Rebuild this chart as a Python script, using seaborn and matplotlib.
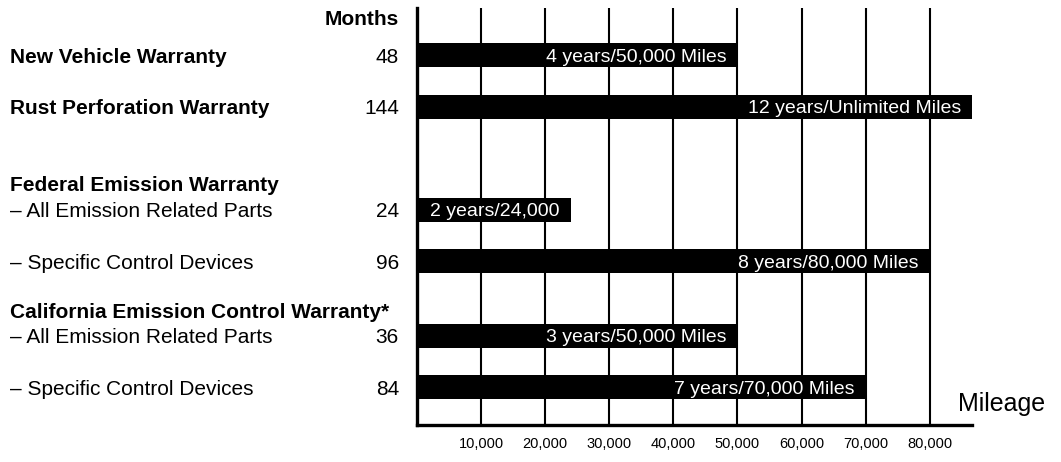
import numpy as np
import pandas as pd
import matplotlib
matplotlib.use("Agg")
import matplotlib.pyplot as plt
import matplotlib.transforms as mtransforms
import seaborn as sns

# datos
rows = ["New Vehicle Warranty", "Rust Perforation Warranty",
        "– All Emission Related Parts", "– Specific Control Devices",
        "– All Emission Related Parts", "– Specific Control Devices"]
row_bold = [True, True, False, False, False, False]
months = [48, 144, 24, 96, 36, 84]
miles = [50000, np.inf, 24000, 80000, 50000, 70000]   # inf = unlimited
bar_labels = ["4 years/50,000 Miles", "12 years/Unlimited Miles", "2 years/24,000",
              "8 years/80,000 Miles", "3 years/50,000 Miles", "7 years/70,000 Miles"]
groups = ["Federal Emission Warranty", "California Emission Control Warranty*"]
tick_values = [10000, 20000, 30000, 40000, 50000, 60000, 70000, 80000]

# layout (posiciones de filas en el eje y)
row_pos = [0, 1, 3, 4, 5.45, 6.45]
group_pos = [2.49, 4.95]
x_max = 86600

sns.set_style("white")
plt.rcParams['font.family'] = ['Liberation Sans', 'DejaVu Sans']
plt.rcParams['text.color'] = 'black'
plt.rcParams['xtick.color'] = 'black'

df = pd.DataFrame({"pos": row_pos, "miles": np.minimum(miles, x_max)})

fig = plt.figure(figsize=(10.61, 4.62), dpi=100)
ax = fig.add_axes([417 / 1061, 1 - 425 / 462, 555 / 1061, 417 / 462])

sns.barplot(data=df, x="miles", y="pos", orient="y", native_scale=True,
            color="black", saturation=1, width=0.466, linewidth=0, ax=ax)

ax.set_xlim(0, x_max)
ax.set_ylim(7.18, -0.913)
ax.set_xlabel("")
ax.set_ylabel("")
ax.set_yticks([])
ax.set_xticks(tick_values)
ax.set_xticklabels([f"{v:,}" for v in tick_values], fontsize=10.5, color="black")
ax.tick_params(axis="x", length=0, pad=9)

for v in tick_values:
    ax.axvline(v, color="black", lw=1.5, zorder=0)

for s in ["top", "right"]:
    ax.spines[s].set_visible(False)
ax.spines["left"].set_linewidth(2.4)
ax.spines["bottom"].set_linewidth(2.4)
ax.spines["left"].set_color("black")
ax.spines["bottom"].set_color("black")

# textos blancos dentro de las barras
for p, m, lab in zip(row_pos, df["miles"], bar_labels):
    ax.annotate(lab, xy=(m, p), xytext=(-8, 0), textcoords="offset points",
                ha="right", va="center_baseline", color="white", fontsize=14)

# etiquetas de la izquierda
tr = mtransforms.blended_transform_factory(fig.transFigure, ax.transData)
fig.text(399 / 1061, -0.72, "Months", transform=tr, ha="right",
         va="center_baseline", fontsize=15, fontweight="bold")
for p, name, b, mo in zip(row_pos, rows, row_bold, months):
    fig.text(10 / 1061, p, name, transform=tr, ha="left", va="center_baseline",
             fontsize=15, fontweight="bold" if b else "normal")
    fig.text(399 / 1061, p, str(mo), transform=tr, ha="right",
             va="center_baseline", fontsize=15)
for p, g in zip(group_pos, groups):
    fig.text(10 / 1061, p, g, transform=tr, ha="left", va="center_baseline",
             fontsize=15, fontweight="bold")

fig.text(958 / 1061, 1 - 402 / 462, "Mileage", ha="left", va="center_baseline",
         fontsize=18)

fig.savefig("out.png", dpi=100)
